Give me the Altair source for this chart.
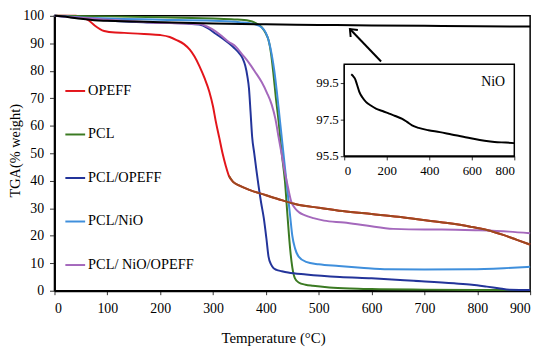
import altair as alt
import pandas as pd

FONT = "Liberation Serif"

series_names = ["OPEFF", "PCL", "PCL/OPEFF", "PCL/NiO", "PCL/ NiO/OPEFF"]
series_colors = ["#e3151b", "#3b7a22", "#23349a", "#3f8fdc", "#a468bc"]

opeff_T = [0, 40, 55, 65, 76, 94, 115, 132, 170, 200, 218, 231, 245, 256, 265, 274, 284, 293, 300, 305, 312, 318, 324, 330, 338, 349, 370, 399, 424, 461, 500, 545, 600, 650, 694, 740, 787, 820, 849, 875, 900]
opeff_V = [100, 100, 99.3, 98.3, 96.5, 94.5, 93.9, 93.8, 93.4, 93.0, 92.3, 91.2, 89.7, 87.7, 85.2, 81.8, 77.3, 72.4, 67, 61.8, 55.5, 50, 45.5, 41.8, 39.6, 38.3, 36.6, 34.8, 33.3, 31.3, 30.2, 29.0, 27.9, 26.9, 25.8, 24.7, 23.3, 22.0, 20.3, 18.5, 16.8]

pcl_T = [0, 100, 200, 300, 340, 368, 380, 392, 400, 405, 410, 414, 419, 424, 430, 436, 441, 446, 450, 455, 462, 475, 489, 520, 560, 600, 700, 800, 900]
pcl_V = [100, 99.8, 99.5, 99.0, 98.7, 98.2, 97.4, 95.9, 93.5, 91.2, 86, 79.4, 70, 61.8, 50, 40, 27, 15, 8.5, 4.5, 3.0, 2.2, 1.8, 1.2, 0.8, 0.6, 0.4, 0.3, 0.3]

pclopeff_T = [0, 50, 88, 181, 250, 274, 290, 305, 318, 330, 340, 349, 356, 361, 365, 368, 371, 374, 378, 382, 386, 391, 396, 401, 405, 410, 414, 420, 430, 442, 476, 540, 600, 680, 756, 790, 818, 840, 861, 880, 900]
pclopeff_V = [100, 99.2, 98.5, 97.6, 97.2, 96.8, 95.5, 93.5, 91.8, 90, 88.3, 86.5, 84.5, 81.8, 78, 73.6, 65, 56, 50, 44, 38.3, 32, 26.5, 19, 12.4, 9.5, 8.3, 7.6, 7.1, 6.6, 5.9, 5.0, 4.5, 3.6, 2.7, 2.2, 1.5, 0.9, 0.35, 0.3, 0.3]

pclnio_T = [0, 50, 100, 200, 300, 350, 378, 392, 400, 406, 411, 416, 421, 426, 431, 436, 441, 446, 450, 455, 462, 476, 500, 538, 580, 632, 700, 787, 850, 900]
pclnio_V = [100, 99.4, 99.0, 98.6, 98.2, 97.7, 97.0, 95.8, 93.8, 90.5, 86, 80, 72, 63, 54, 45, 36, 27, 20, 15.5, 12.4, 10.5, 9.6, 9.0, 8.4, 7.8, 7.7, 7.8, 8.2, 8.7]

pclnioopeff_T = [0, 50, 88, 181, 250, 274, 295, 318, 330, 343, 355, 368, 380, 392, 402, 411, 418, 424, 430, 436, 442, 448, 455, 463, 473, 490, 510, 548, 590, 641, 700, 733, 800, 860, 900]
pclnioopeff_V = [100, 99.3, 98.8, 97.6, 97.2, 97.0, 95.5, 92.4, 90.5, 88.8, 86, 82.9, 79.5, 75.9, 72, 67.7, 62.5, 55.9, 49.5, 43, 37.5, 32.4, 30, 28.5, 27.5, 26.4, 25.5, 24.8, 23.7, 22.5, 22.3, 22.3, 22.0, 21.5, 20.9]

nio_T = [0, 25, 50, 75, 100, 150, 200, 300, 400, 500, 600, 700, 800, 900]
nio_V = [100, 99.6, 98.9, 98.4, 98.2, 97.9, 97.7, 97.2, 96.9, 96.7, 96.5, 96.35, 96.2, 96.1]

inset_T = [33, 42, 51, 60, 71, 85, 102, 125, 149, 180, 211, 240, 273, 295, 319, 350, 396, 450, 505, 560, 614, 660, 707, 760, 800]
inset_V = [99.95, 99.85, 99.7, 99.4, 99.0, 98.7, 98.45, 98.25, 98.08, 97.95, 97.81, 97.68, 97.52, 97.36, 97.17, 97.03, 96.9, 96.8, 96.67, 96.55, 96.42, 96.33, 96.26, 96.23, 96.2]

x_ticks = [0, 100, 200, 300, 400, 500, 600, 700, 800, 900]
y_ticks = [0, 10, 20, 30, 40, 50, 60, 70, 80, 90, 100]
inset_x_ticks = [0, 200, 400, 600, 800]
inset_y_ticks = [95.5, 97.5, 99.5]

arrow_tail = (618, 83.4)
arrow_head = (559, 95.2)

W, H = 481, 278
INSET_X = [293, 465]
INSET_Y = [141.7, 49]

rows = []
for name, Ts, Vs in zip(series_names,
                        [opeff_T, pcl_T, pclopeff_T, pclnio_T, pclnioopeff_T],
                        [opeff_V, pcl_V, pclopeff_V, pclnio_V, pclnioopeff_V]):
    for i, (t, v) in enumerate(zip(Ts, Vs)):
        rows.append({"series": name, "T": t, "V": v, "i": i})
df = pd.DataFrame(rows)
df_nio = pd.DataFrame({"T": nio_T, "V": nio_V})
df_inset = pd.DataFrame({"T": inset_T, "V": inset_V})
df_arrow = pd.DataFrame({"T": [arrow_tail[0]], "V": [arrow_tail[1]], "T2": [arrow_head[0]], "V2": [arrow_head[1]]})
df_head = pd.DataFrame({"T": [arrow_head[0]], "V": [arrow_head[1]]})
df_box = pd.DataFrame({"T": [0], "T2": [800], "V": [95.5], "V2": [100.5]})
df_lab = pd.DataFrame({"T": [700], "V": [99.55], "label": ["NiO"]})

x_axis = alt.Axis(values=x_ticks, title="Temperature (°C)", tickSize=4, labelPadding=7,
                  titleX=221, titleY=52, titleBaseline="alphabetic", titleAlign="center")
y_axis = alt.Axis(values=y_ticks, title="TGA(% weight)", tickSize=5, labelPadding=6,
                  titleX=-39.5, titleY=136, titleAlign="center", titleBaseline="middle",
                  titleAngle=270, titleFontSize=14.5)
xm = alt.X("T:Q", scale=alt.Scale(domain=[0, 900], nice=False, zero=False), axis=x_axis)
ym = alt.Y("V:Q", scale=alt.Scale(domain=[0, 100], nice=False, zero=False), axis=y_axis)

lines = alt.Chart(df).mark_line(strokeWidth=2, interpolate="monotone").encode(
    x=xm, y=ym,
    color=alt.Color("series:N", sort=series_names,
                    scale=alt.Scale(domain=series_names, range=series_colors),
                    legend=alt.Legend(title=None, orient="none", legendX=10, legendY=65,
                                      symbolType="stroke", symbolSize=400, symbolStrokeWidth=2,
                                      labelFont=FONT, labelFontSize=14.5, labelColor="black",
                                      rowPadding=26, labelOffset=2, padding=0)),
    order="i:Q",
)
brown = alt.Chart(df).transform_filter(
    (alt.datum.series == "OPEFF") & (alt.datum.T >= 330)
).mark_line(strokeWidth=2, interpolate="monotone", color="#9b4a1f").encode(x=xm, y=ym, order="i:Q")
nio_main = alt.Chart(df_nio).mark_line(strokeWidth=2, color="black", interpolate="monotone").encode(x=xm, y=ym)
arrow = alt.Chart(df_arrow).mark_rule(strokeWidth=2, color="black").encode(x=xm, y=ym, x2="T2:Q", y2="V2:Q")
head = alt.Chart(df_head).mark_point(shape="M -0.8 1 L 0 0 L 0.8 1", angle=316, size=160, filled=False,
                                     stroke="black", strokeWidth=2, opacity=1).encode(x=xm, y=ym)

main = alt.layer(lines, brown, nio_main, arrow, head)

xi_axis = alt.Axis(orient="bottom", offset=-(H - INSET_Y[0]), values=inset_x_ticks, title=None,
                   tickSize=4, labelPadding=5, labelFontSize=13)
yi_axis = alt.Axis(orient="left", offset=-INSET_X[0], values=inset_y_ticks, format=".1f", title=None,
                   tickSize=4, labelPadding=2, labelFontSize=13)
xi = alt.X("T:Q", scale=alt.Scale(domain=[0, 800], range=INSET_X, nice=False, zero=False), axis=xi_axis)
yi = alt.Y("V:Q", scale=alt.Scale(domain=[95.5, 100.5], range=INSET_Y, nice=False, zero=False), axis=yi_axis)

box = alt.Chart(df_box).mark_rect(fill="white", stroke="black", strokeWidth=1.5).encode(x=xi, y=yi, x2="T2:Q", y2="V2:Q")
inset_line = alt.Chart(df_inset).mark_line(strokeWidth=2, color="black", interpolate="monotone").encode(x=xi, y=yi)
inset_text = alt.Chart(df_lab).mark_text(font=FONT, fontSize=14, color="black").encode(x=xi, y=yi, text="label:N")

inset = alt.layer(box, inset_line, inset_text)

chart = alt.layer(main, inset).resolve_scale(x="independent", y="independent").properties(
    width=W, height=H, autosize="none", background="white",
    padding={"left": 47, "top": 6, "right": 12, "bottom": 56},
).configure_view(stroke="black", strokeWidth=1.5).configure_axis(
    grid=False, domainColor="black", domainWidth=2, tickColor="#333", tickWidth=1,
    labelFont=FONT, labelFontSize=14, labelColor="black",
    titleFont=FONT, titleFontSize=15, titleColor="black", titleFontWeight="normal",
)

chart.save("out.html", embed_options={"renderer": "svg", "actions": False})
